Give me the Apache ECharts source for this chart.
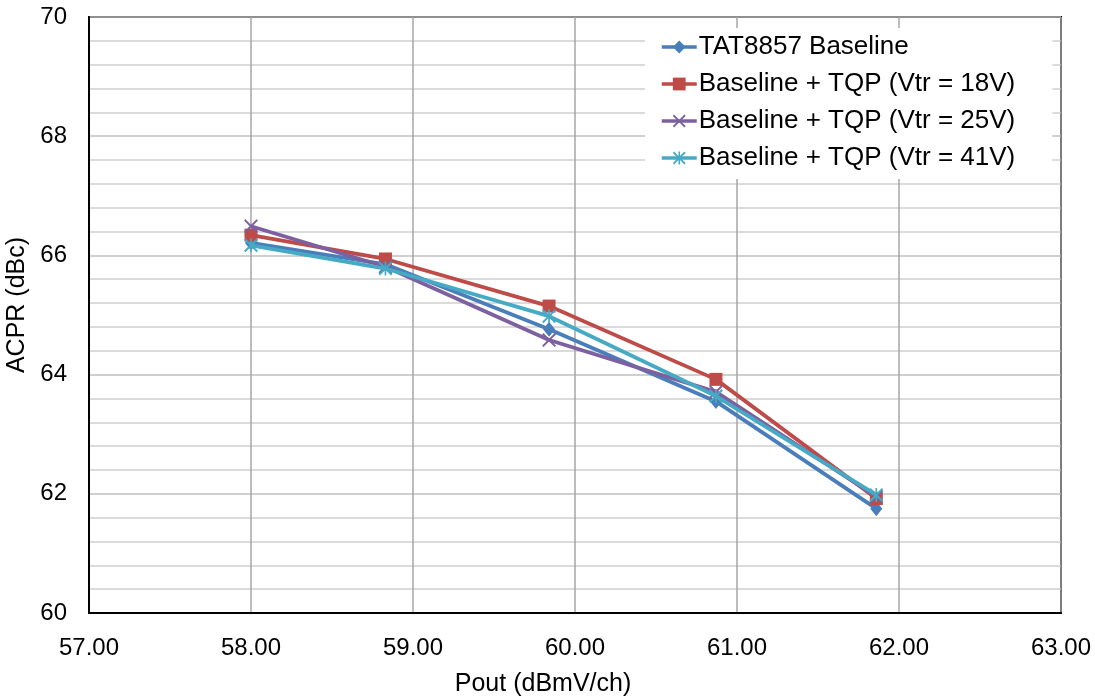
<!DOCTYPE html>
<html>
<head>
<meta charset="utf-8">
<script src="https://cdn.jsdelivr.net/npm/echarts@6/dist/echarts.min.js"></script>
<style>
html,body{margin:0;padding:0;background:#fff;}
#chart{width:1095px;height:698px;}
</style>
</head>
<body>
<div id="chart"></div>
<script>
const seriesNames = ['TAT8857 Baseline', 'Baseline + TQP (Vtr = 18V)', 'Baseline + TQP (Vtr = 25V)', 'Baseline + TQP (Vtr = 41V)'];
const pout = [58.00, 58.83, 59.84, 60.87, 61.86];
const baseline = [66.21, 65.85, 64.76, 63.55, 61.75];
const vtr18 = [66.34, 65.94, 65.15, 63.92, 61.92];
const vtr25 = [66.49, 65.81, 64.58, 63.71, 61.95];
const vtr41 = [66.17, 65.78, 64.98, 63.64, 61.98];
const xTitle = 'Pout (dBmV/ch)';
const yTitle = 'ACPR (dBc)';

const colors = ['#4A7EBB', '#BE4B48', '#7D60A0', '#46AAC5'];
const xSym = 'path://M0,1 L1,0 L5,4 L9,0 L10,1 L6,5 L10,9 L9,10 L5,6 L1,10 L0,9 L4,5 Z';
const starSym = 'path://M0,1 L1,0 L5,4 L9,0 L10,1 L6,5 L10,9 L9,10 L5,6 L1,10 L0,9 L4,5 Z M4.4,0 L5.6,0 L5.6,10 L4.4,10 Z';
const symbols = ['diamond', 'rect', xSym, starSym];
const symSizes = [[12, 15], 13, 14, 14];
const values = [baseline, vtr18, vtr25, vtr41];

const font = '"Liberation Sans", Arial, sans-serif';
const chart = echarts.init(document.getElementById('chart'));
chart.setOption({
  animation: false,
  backgroundColor: '#fff',
  grid: { left: 89, top: 17, width: 972, height: 596, containLabel: false, outerBoundsMode: 'none', show: true, borderColor: '#000', borderWidth: 2, backgroundColor: 'transparent' },
  legend: {
    left: 645, top: 28,
    orient: 'vertical',
    backgroundColor: '#fff',
    padding: [6, 37, 8, 15],
    itemWidth: 35, itemHeight: 16, itemGap: 11,
    lineStyle: { width: 3.5 },
    textStyle: { fontFamily: font, fontSize: 26, color: '#000', lineHeight: 26, padding: [0, 0, 0, -3] },
    data: seriesNames
  },
  xAxis: {
    type: 'value', min: 57, max: 63, interval: 1,
    axisLine: { show: true, lineStyle: { color: '#000', width: 2 } },
    axisTick: { show: false },
    axisLabel: { fontFamily: font, fontSize: 24, color: '#000', margin: 23, formatter: v => v.toFixed(2) },
    splitLine: { show: true, lineStyle: { color: '#A6A6A6', width: 1.5 } },
    name: xTitle, nameLocation: 'middle', nameGap: 59,
    nameTextStyle: { fontFamily: font, fontSize: 25, color: '#000', padding: [0, 64, 0, 0] }
  },
  yAxis: {
    type: 'value', min: 60, max: 70, interval: 2,
    axisLine: { show: true, lineStyle: { color: '#000', width: 2 } },
    axisTick: { show: false },
    axisLabel: { fontFamily: font, fontSize: 24, color: '#000', margin: 22 },
    splitLine: { show: true, lineStyle: { color: '#BFBFBF', width: 1.5 } },
    minorTick: { show: false, splitNumber: 5 },
    minorSplitLine: { show: true, lineStyle: { color: '#D0D0D0', width: 1.5 } },
    name: yTitle, nameLocation: 'middle', nameGap: 50, nameRotate: 90,
    nameTextStyle: { fontFamily: font, fontSize: 25, color: '#000', padding: [0, 0, 0, 20] }
  },
  series: seriesNames.map((n, i) => ({
    name: n, type: 'line',
    data: pout.map((x, j) => [x, values[i][j]]),
    symbol: symbols[i], symbolSize: symSizes[i],
    showAllSymbol: true,
    lineStyle: { color: colors[i], width: 3.8 },
    itemStyle: { color: colors[i] },
    z: 2 + i
  }))
});
</script>
</body>
</html>
